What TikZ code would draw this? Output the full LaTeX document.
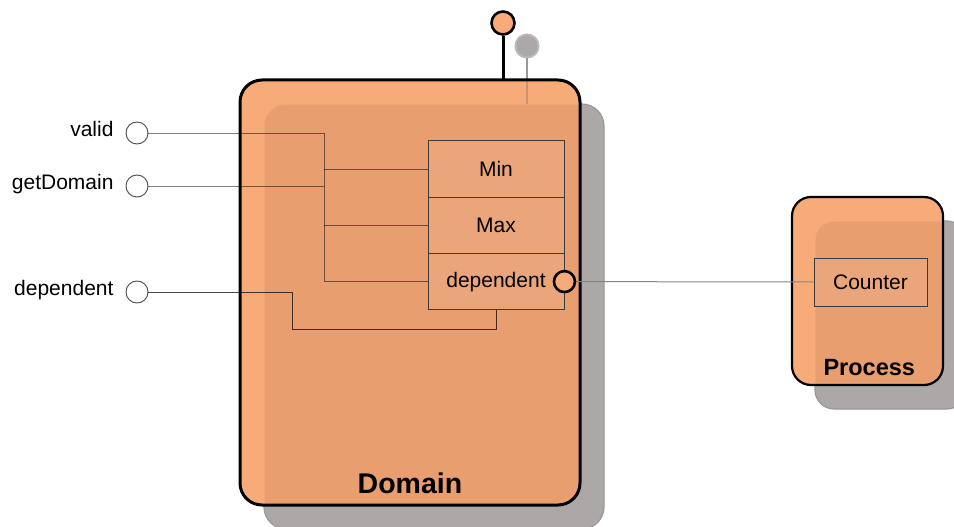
\documentclass[tikz,border=0pt]{standalone}
\usepackage{fontspec}
\setmainfont{Liberation Sans}
\definecolor{orLight}{HTML}{F7AB78}
\definecolor{orDark}{HTML}{E89E6E}
\definecolor{partFill}{HTML}{EBA57A}
\definecolor{shGray}{HTML}{ABA8A7}
\definecolor{shEdge}{HTML}{9C9897}
\definecolor{shSeam}{HTML}{F0AB82}
\definecolor{partEdge}{HTML}{3C3C3C}
\begin{document}
\begin{tikzpicture}[x=1pt,y=-1pt,
  txt/.style={font=\fontsize{21}{25}\selectfont},
  title/.style={font=\fontsize{28.5}{32}\selectfont\bfseries},
  ptitle/.style={font=\fontsize{23.5}{27}\selectfont\bfseries},
  bigshadow/.style={draw=shEdge, line width=1.2pt, fill=shGray, rounded corners=22pt,
    minimum width=340pt, minimum height=425pt, inner sep=0pt},
  bigbox/.style={draw=black, line width=3pt, rounded corners=22pt,
    minimum width=340pt, minimum height=425pt, inner sep=0pt},
  smallshadow/.style={draw=shEdge, line width=1.2pt, fill=shGray, rounded corners=19pt,
    minimum width=151pt, minimum height=188pt, inner sep=0pt},
  smallbox/.style={draw=black, line width=2.2pt, rounded corners=19pt,
    minimum width=151pt, minimum height=188pt, inner sep=0pt},
  part/.style={draw=partEdge, line width=0.9pt, fill=partFill, txt,
    minimum width=136pt, minimum height=56.3pt, inner sep=0pt},
  port/.style={circle, draw=black!70, line width=0.9pt, fill=white,
    minimum size=22pt, inner sep=0pt},
  dport/.style={circle, draw=black, line width=2.6pt, fill=orLight,
    minimum size=21pt, inner sep=0pt},
  wire/.style={draw=black, draw opacity=0.5, line width=1pt},
  wiredark/.style={draw=black, draw opacity=0.72, line width=1pt},
  link/.style={draw=black!48, line width=1pt},
]
\useasboundingbox (0,0) rectangle (954,527);
\clip (0,0) rectangle (954,527);

% ---- Domain component: drop shadow, body, overlap tint ----
\node[bigshadow] (domShadow) at (434,316.5) {};
\node[circle, draw=shEdge!70, line width=2pt, fill=shGray, minimum size=23pt,
  inner sep=0pt] (lolShadow) at (527,46) {};
\draw[draw=shEdge, line width=2pt] (lolShadow.south) -- (527,104);
\fill[orLight, rounded corners=22pt] (240,80) rectangle (580,505);
\begin{scope}
  \clip[rounded corners=22pt] (240,80) rectangle (580,505);
  \clip[rounded corners=22pt] (264,104) rectangle (604,529);
  \fill[orDark, rounded corners=22pt] (240,80) rectangle (580,505);
  \draw[shSeam, line width=1.2pt, rounded corners=22pt] (264,104) rectangle (604,529);
\end{scope}
\draw[draw=shSeam!85!black, line width=2pt] (527,80) -- (527,104);
\node[bigbox] (domain) at (410,292.5) {};
\node[title, anchor=base] (domLabel) at (410,493) {Domain};

% provided interface on top
\node[circle, draw=black, line width=2.6pt, fill=orLight, minimum size=23pt,
  inner sep=0pt] (lolTop) at (503,23) {};
\draw[line width=3pt] (lolTop.south) -- (503,80);

% ---- Process component ----
\node[smallshadow] (procShadow) at (890.5,315) {};
\fill[orLight, rounded corners=19pt] (792,197) rectangle (943,385);
\begin{scope}
  \clip[rounded corners=19pt] (792,197) rectangle (943,385);
  \clip[rounded corners=19pt] (815,221) rectangle (966,409);
  \fill[orDark, rounded corners=19pt] (792,197) rectangle (943,385);
  \draw[shSeam, line width=1.2pt, rounded corners=19pt] (815,221) rectangle (966,409);
\end{scope}
\node[smallbox] (process) at (867.5,291) {};
\node[ptitle, anchor=base west] (procLabel) at (820,375) {Process};

% ---- parts ----
\node[part] (min) at (496,169) {Min};
\node[part] (max) at (496,225.3) {Max};
\node[part] (dep) at (496,281.6) {dependent};
\node[part, minimum width=113pt, minimum height=48pt] (counter) at (870.5,282) {Counter};

% ---- external ports ----
\node[port] (pValid) at (137,133) {};
\node[port] (pGet) at (137,186) {};
\node[port] (pDep) at (137,292) {};
\node[txt, anchor=base east] (lValid) at (117,136) {valid};
\node[txt, anchor=base east] (lGet) at (117,189) {getDomain};
\node[txt, anchor=base east] (lDep) at (117,295) {dependent};

% ---- wiring ----
\coordinate (bus) at (324,133);
\coordinate (jog) at (292,329);
\draw[wire] (pValid.east) -- (bus) -- (bus |- dep.west) -- (dep.west);
\draw[wire] (pGet.east) -- (bus |- pGet.east);
\draw[wire] (bus |- min.west) -- (min.west);
\draw[wire] (bus |- max.west) -- (max.west);
\draw[wiredark] (pDep.east) -- (jog |- pDep.east) -- (jog) -- (jog -| dep.south) -- (dep.south);

% required port of the dependent part, linked to the counter
\draw[link] (dep.east) -- (counter.west);
\node[dport] (depPort) at (dep.east) {};
\end{tikzpicture}
\end{document}
